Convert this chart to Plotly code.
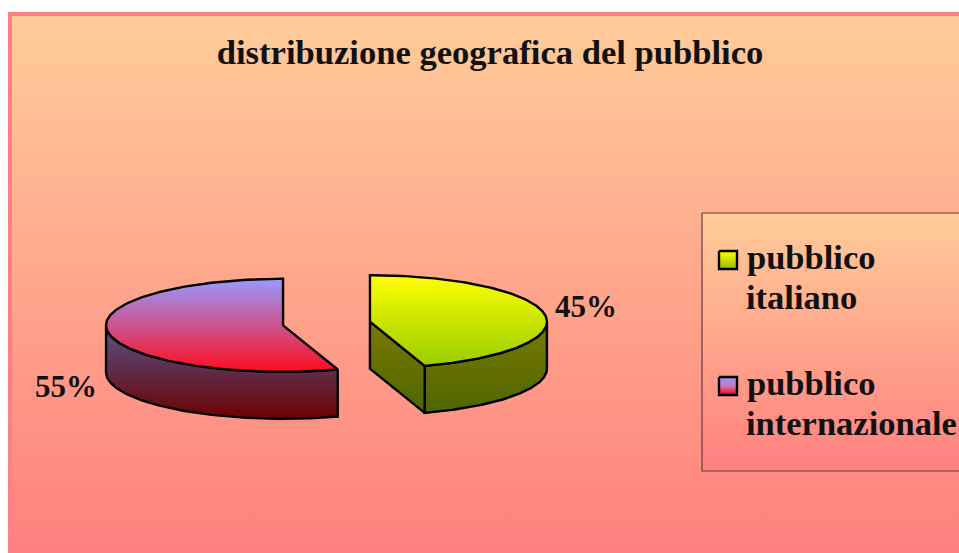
import numpy as np
import plotly.graph_objects as go

# data
categories = ["pubblico italiano", "pubblico internazionale"]
values = [45, 55]
title_text = "distribuzione geografica del pubblico"

# style
FONT = "Liberation Serif"
W, H = 959, 553
CX, CY, RX, RY, DEPTH, EXPLODE = 326.5, 323.5, 177.0, 46.5, 47.0, 44.0
top_grad = [("#FFFF00", "#99CC00"), ("#9999FF", "#FF0D1F")]
side_grad = [("#7A7A00", "#4D6600"), ("#54548A", "#6E0000")]
swatch_grad = [("#FFFF00", "#99BB00"), ("#9999FF", "#C878C0", "#FF0000")]
label_pos = [(586, 306), (66, 386)]

fig = go.Figure()


def poly(x, y, grad, line=None, width=2.4):
    x, y = np.asarray(x, float), np.asarray(y, float)
    stops = [[k / (len(grad) - 1), c] for k, c in enumerate(grad)]
    fig.add_trace(go.Scatter(
        x=x, y=y, mode="lines", fill="toself",
        fillgradient=dict(type="vertical", colorscale=stops, start=y.min(), stop=y.max()),
        line=dict(color=line or "rgba(0,0,0,0)", width=width),
        hoverinfo="skip", showlegend=False))


# frame and plot background
poly([8, W, W, 8, 8], [12, 12, H, H, 12], ("#FF8080", "#FF8080"))
poly([12, W, W, 12, 12], [16, 16, H, H, 16], ("#FFCC99", "#FF8080"))
# legend box
poly([702, W + 5, W + 5, 702, 702], [213, 213, 471, 471, 213],
     ("#FFCC99", "#FF8080"), line="#5A4040", width=1.2)

# pie slices, angles clockwise from the top
fractions = np.array(values, float) / sum(values)
edges = np.concatenate([[0], np.cumsum(fractions)]) * 2 * np.pi
for i in range(len(values)):
    a0, a1 = edges[i], edges[i + 1]
    mid = (a0 + a1) / 2
    cx = CX + EXPLODE * np.sin(mid)
    cy = CY - EXPLODE * np.cos(mid) * RY / RX
    t = np.linspace(a0, a1, 200)
    ax, ay = cx + RX * np.sin(t), cy - RY * np.cos(t)

    # outer wall: the part of the rim on the viewer's side
    vis = (t >= np.pi / 2) & (t <= 3 * np.pi / 2)
    vx, vy = ax[vis], ay[vis]
    poly(np.r_[vx, vx[::-1], vx[0]], np.r_[vy, vy[::-1] + DEPTH, vy[0]], side_grad[i], line="black")
    # cut face at the end of the first slice looks towards the viewer
    if i == 0:
        ex, ey = cx + RX * np.sin(a1), cy - RY * np.cos(a1)
        poly([cx, ex, ex, cx, cx], [cy, ey, ey + DEPTH, cy + DEPTH, cy], side_grad[i], line="black")
    # top face
    poly(np.r_[cx, ax, cx], np.r_[cy, ay, cy], top_grad[i], line="black")

    # value label
    fig.add_annotation(x=label_pos[i][0], y=label_pos[i][1], text=f"<b>{values[i]}%</b>", showarrow=False,
                       font=dict(family=FONT, size=31, color="#111"), xanchor="center", yanchor="middle")

    # legend entry
    sy = 260 + i * 126
    poly([719, 737, 737, 719, 719], [sy - 9, sy - 9, sy + 9, sy + 9, sy - 9], swatch_grad[i], line="black")
    first, second = categories[i].split(" ", 1)
    fig.add_annotation(x=745, y=sy - 3, text=f"<b>{first}</b>", showarrow=False, xanchor="left",
                       yanchor="middle", font=dict(family=FONT, size=34.5, color="#111"))
    fig.add_annotation(x=744, y=sy + 37, text=f"<b>{second}</b>", showarrow=False, xanchor="left",
                       yanchor="middle", font=dict(family=FONT, size=34.5, color="#111"))

fig.update_layout(
    width=W, height=H, margin=dict(l=0, r=0, t=0, b=0),
    paper_bgcolor="white", plot_bgcolor="white", showlegend=False,
    title=dict(text=f"<b>{title_text}</b>", x=490 / W, xanchor="center", y=1 - 52 / H, yanchor="middle",
               font=dict(family=FONT, size=34.6, color="#111")),
    xaxis=dict(range=[0, W], visible=False, fixedrange=True),
    yaxis=dict(range=[H, 0], visible=False, fixedrange=True),
)
fig.write_html("out.html", config=dict(displayModeBar=False),
               post_script="document.body.style.margin='0';document.body.style.overflow='hidden';")
